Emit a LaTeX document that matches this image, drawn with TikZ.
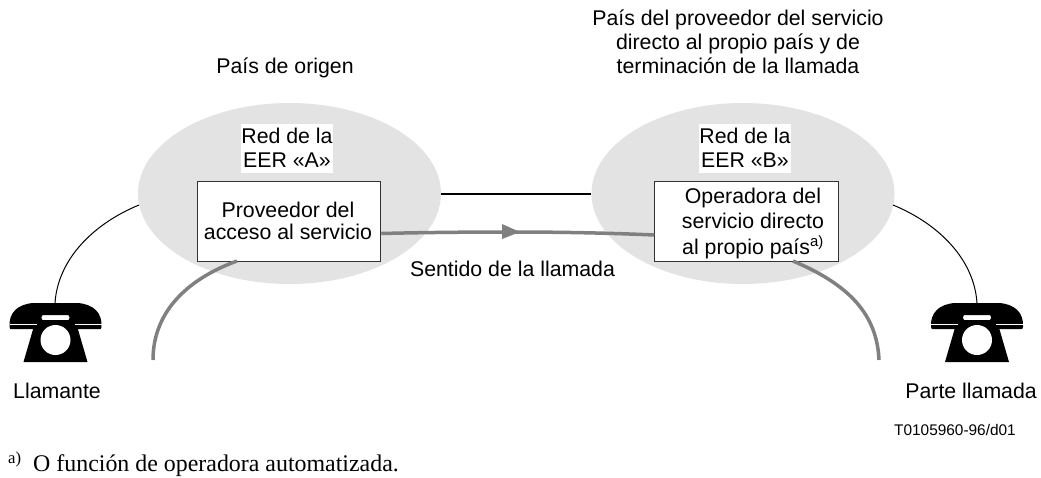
\documentclass[tikz,border=0pt]{standalone}
\usepackage{fontspec}
\setmainfont{Liberation Sans}
\newfontfamily\serifn{Liberation Serif}
\usetikzlibrary{arrows.meta,shapes.geometric}
\definecolor{ell}{gray}{0.89}
\definecolor{gline}{gray}{0.5}
\tikzset{
 x=1pt,y=-1pt,
 netblob/.style={ellipse,fill=ell,minimum width=303pt,minimum height=181pt,inner sep=0},
 svc/.style={draw=black!80,line width=1pt,fill=white,minimum width=183.5pt,minimum height=80pt,inner sep=0},
 lab/.style={align=center,inner sep=0,font=\fontsize{21.3}{24}\selectfont},
 thinw/.style={line width=1pt,black},
 grayw/.style={line width=3.5pt,gline},
}
\newcommand{\phone}[2]{%
 \begin{scope}[shift={(#1,#2)}]
  \fill[black] (-46,24) .. controls (-47,10) and (-38,1) .. (-22,0) -- (22,0) .. controls (38,1) and (47,10) .. (46,24) .. controls (46,27) and (45,26) .. (42,26) -- (19,26) .. controls (18,22) and (16,18) .. (13,12) -- (-13,12) .. controls (-16,18) and (-18,22) .. (-19,26) -- (-42,26) .. controls (-45,26) and (-46,27) .. (-46,24) -- cycle;
  \fill[black] (-16,11) -- (-13,17) -- (13,17) -- (16,11) -- (18,11) -- (32,59) -- (-32,59) -- (-18,11) -- cycle;
  \fill[white] (0,37) circle (15);
  \draw[white,line width=0.5pt] (-46,21) -- (-19,21) (19,21) -- (46,21);
 \end{scope}}
\begin{document}
\begin{tikzpicture}
\useasboundingbox (0,0) rectangle (1041,477);
\node[netblob] (ea) at (289.5,193.5) {};
\node[netblob] (eb) at (743,193.5) {};
\node[svc] (pa) at (289,221) {};
\node[svc] (pb) at (746.5,221) {};
\coordinate (ca) at (55,303);
\coordinate (cb) at (977,303);
\coordinate (ga) at (153,360);
\coordinate (gb) at (879,360);
\coordinate (ea1) at (139,205);
\coordinate (eb1) at (893,205);
\coordinate (ga1) at (237,261);
\coordinate (gb1) at (793,261);
\coordinate (mid) at (510,232);
\draw[thinw] (ea1) .. controls (95,223) and (58,258) .. (ca);
\draw[thinw] (eb1) .. controls (937,223) and (974,258) .. (cb);
\draw[grayw] (ga) .. controls (153,310) and (190,278) .. (ga1);
\draw[grayw] (gb) .. controls (877,315) and (850,285) .. (gb1);
\draw[line width=2pt,black] (ea.east) -- (eb.west);
\draw[grayw] (pa.east |- 0,233.5) .. controls (420,232.5) and (470,232) .. (mid) .. controls (560,232) and (610,233) .. (pb.west |- 0,235);
\fill[gline] (502,224) -- (520,232) -- (502,239) -- cycle;
\phone{55.5}{303}
\phone{977}{303}
\node[lab,fill=white,minimum width=92pt,minimum height=49pt] (t1) at (287,148.5) {\raisebox{1pt}{Red de la}\\\raisebox{1pt}{EER «A»}};
\node[lab,fill=white,minimum width=92pt,minimum height=49pt] (t3) at (745,148.5) {\raisebox{1pt}{Red de la}\\\raisebox{1pt}{EER «B»}};
\node[lab,font=\fontsize{21.3}{22}\selectfont] (tpa) at (288,220.5) {Proveedor del\\acceso al servicio};
\node[lab,font=\fontsize{21.3}{25.5}\selectfont] (tpb) at (753,223) {Operadora del\\servicio directo\\al propio país\textsuperscript{a)}};
\node[lab] (t5) at (285,68) {País de origen};
\node[lab] (t6) at (738,42) {País del proveedor del servicio\\directo al propio país y de\\terminación de la llamada};
\node[lab] (t7) at (512.5,268.5) {Sentido de la llamada};
\node[lab,anchor=base west] (t8) at (13,398) {Llamante};
\node[lab,anchor=base east] (t9) at (1037,398) {Parte llamada};
\node[lab,anchor=base west,font=\fontsize{15.4}{18}\selectfont] (t10) at (894,435) {T0105960-96/d01};
\node[lab,anchor=base west,font=\fontsize{16.7}{20}\serifn] (t12) at (8,463) {a)};
\node[lab,anchor=base west,font=\fontsize{23.9}{28}\serifn] (t11) at (33,471) {O función de operadora automatizada.};
\end{tikzpicture}
\end{document}
